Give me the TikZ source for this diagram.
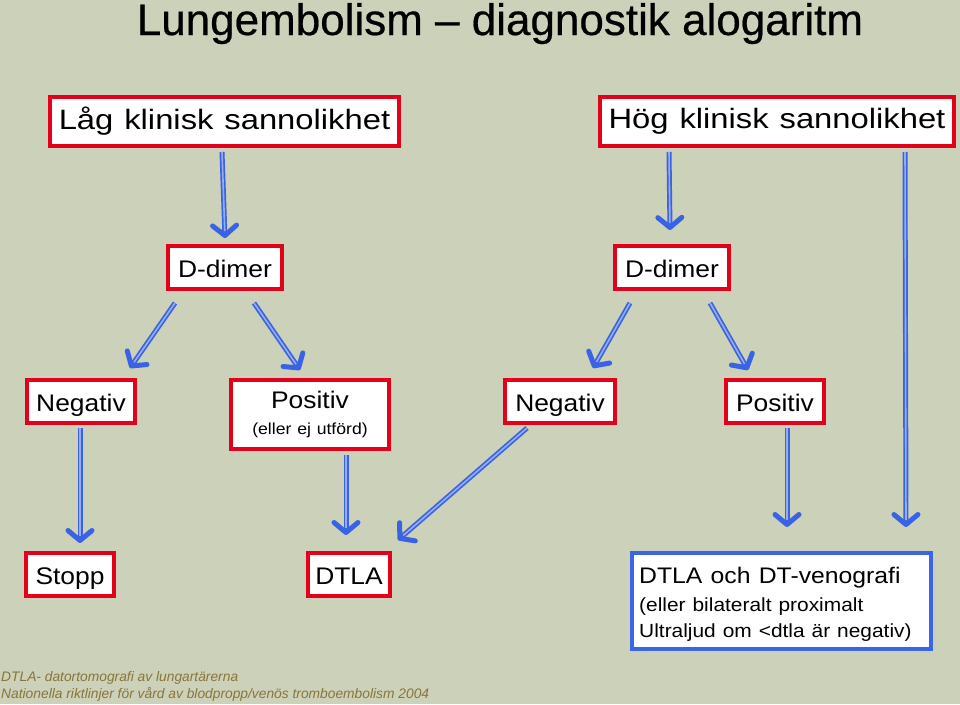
\documentclass[tikz,border=0pt]{standalone}
\usepackage{fontspec}
\setmainfont{Liberation Sans}
\newfontfamily\boxfont[FakeStretch=1.1,WordSpace=1.2]{Liberation Sans}
\newfontfamily\boxfontw[FakeStretch=1.17,WordSpace=1.2]{Liberation Sans}
\newfontfamily\titlefont[FakeBold=0.5]{Liberation Sans}
\usetikzlibrary{arrows.meta,calc}
\definecolor{bg}{RGB}{204,209,185}
\definecolor{boxred}{RGB}{226,0,26}
\definecolor{boxblue}{RGB}{60,100,230}
\definecolor{arrblue}{RGB}{58,98,228}
\definecolor{arrlight}{RGB}{150,172,235}
\definecolor{foot}{RGB}{138,116,58}
\newcommand{\fs}[1]{\fontsize{#1}{#1}\selectfont}
\begin{document}
\begin{tikzpicture}[x=1pt,y=-1pt,
  box/.style={draw=boxred, line width=4pt, fill=white, inner sep=0pt, font=\boxfont},
  sbox/.style={box, minimum height=43pt, text height=20pt, text depth=0pt, font=\boxfont\fs{24}},
  arr/.style={draw=arrblue, line width=5pt,
    -{Straight Barb[length=10pt,width=24pt,round]},
    postaction={draw=arrlight, line width=1.6pt, -, shorten >=7pt}},
  foottext/.style={anchor=base west, inner sep=0pt, text=foot, font=\itshape\fs{13.8}}]
\fill[bg] (0,0) rectangle (960,704);
\useasboundingbox (0,0) rectangle (960,704);

\node[anchor=base, inner sep=0pt, font=\titlefont\fs{44}] (title) at (500,35) {Lungembolism – diagnostik alogaritm};

\node[box, minimum width=349pt, minimum height=49pt, font=\boxfontw\fs{28}] (low) at (224.5,121.5) {Låg klinisk sannolikhet};
\node[box, minimum width=354pt, minimum height=49pt, font=\boxfontw\fs{28}] (high) at (777,121.5) {Hög klinisk sannolikhet};
\node[sbox, minimum width=114pt] (ddl) at (225,267.5) {D-dimer};
\node[sbox, minimum width=114pt] (ddr) at (672,267.5) {D-dimer};
\node[sbox, minimum width=108pt] (neg1) at (81,401.5) {Negativ};
\node[box, minimum width=158pt, minimum height=69pt, align=center] (pos1) at (310,414.5)
  {{\fs{24}Positiv}\\[14pt]{\fs{16}(eller ej utförd)}};
\node[sbox, minimum width=110pt] (neg2) at (560,401.5) {Negativ};
\node[sbox, minimum width=98pt] (pos2) at (775,401.5) {Positiv};
\node[sbox, minimum width=88pt] (stopp) at (70,574.5) {Stopp};
\node[sbox, minimum width=82pt] (dtla) at (349,574.5) {DTLA};
\node[box, draw=boxblue, minimum width=299pt, minimum height=96pt] (och) at (781.5,601) {};
\node[anchor=west, inner sep=0pt, align=left, font=\boxfont] (ochtext) at ($(och.west)+(9,3)$)
  {{\fs{22.5}DTLA och DT-venografi}\\[8.5pt]{\fs{19}(eller bilateralt proximalt}\\[7.5pt]{\fs{19}Ultraljud om <dtla är negativ)}};

\draw[arr] ($(low.south)+(-2.5,4)$) -- ($(ddl.north)+(0,-6)$);
\draw[arr] ($(high.south)+(-108,4)$) -- ($(ddr.north)+(-2,-14)$);
\draw[arr] ($(high.south)+(128,4)$) -- ($(och.north)+(124.5,-24)$);
\draw[arr] ($(ddl.south)+(-50,12)$) -- ($(neg1.north)+(49,-10)$);
\draw[arr] ($(ddl.south)+(29,12)$) -- ($(pos1.north)+(-10,-8)$);
\draw[arr] ($(ddr.south)+(-42,12)$) -- ($(neg2.north)+(33,-10)$);
\draw[arr] ($(ddr.south)+(38,12)$) -- ($(pos2.north)+(-27,-8)$);
\draw[arr] ($(neg1.south)+(-1,3)$) -- ($(stopp.north)+(10,-8)$);
\draw[arr] ($(pos1.south)+(36,4)$) -- ($(dtla.north)+(-3,-16)$);
\draw[arr] ($(neg2.south)+(-33,3)$) -- ($(dtla.north east)+(6,-11)$);
\draw[arr] ($(pos2.south)+(12,3)$) -- ($(och.north)+(5.5,-24)$);

\node[foottext] (f1) at (1,681) {DTLA- datortomografi av lungartärerna};
\node[foottext] (f2) at (1,698) {Nationella riktlinjer för vård av blodpropp/venös tromboembolism 2004};
\end{tikzpicture}
\end{document}
